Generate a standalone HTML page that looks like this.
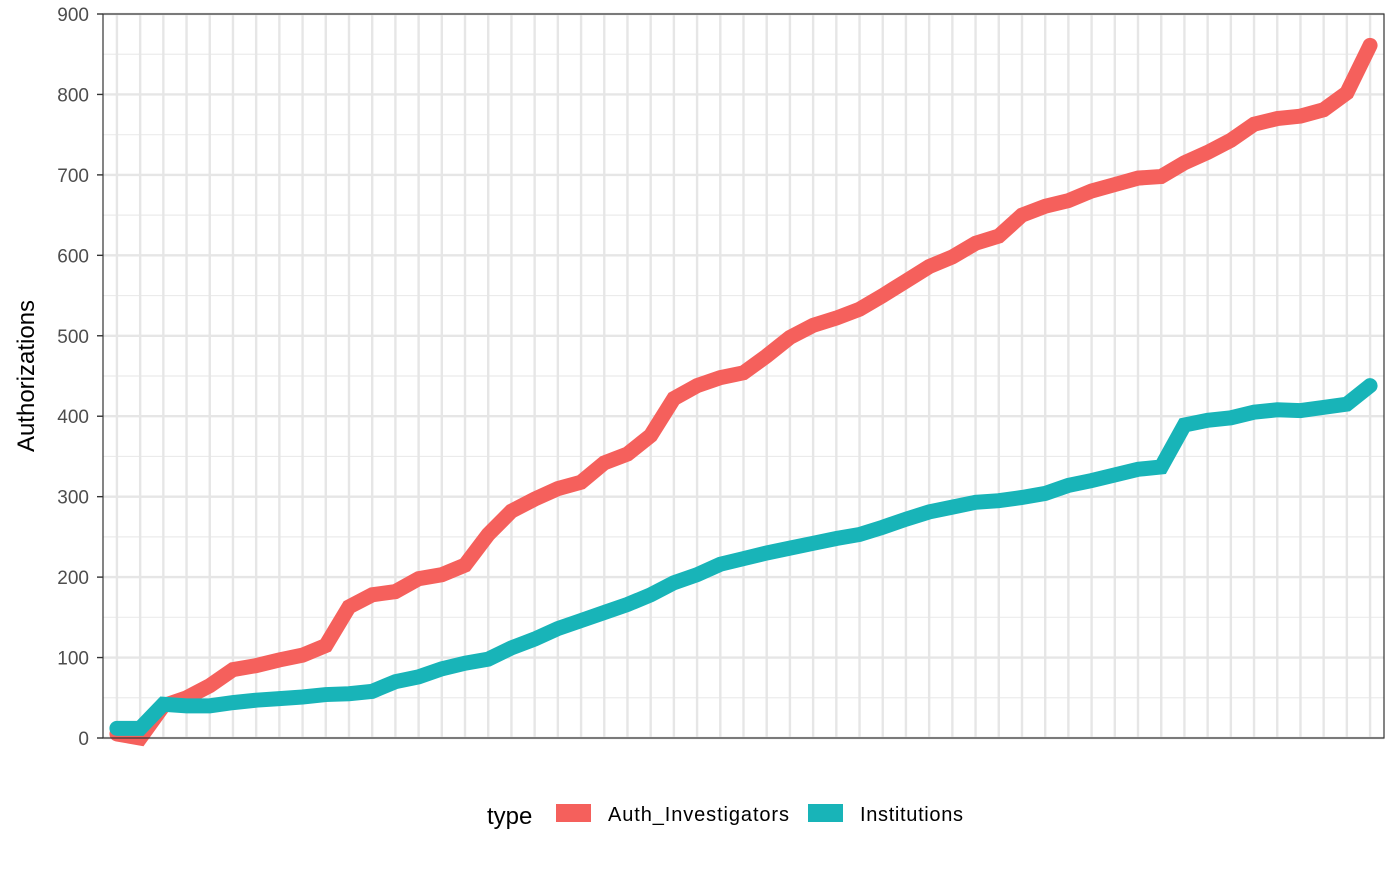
<!DOCTYPE html>
<html><head><meta charset="utf-8"><style>
body{margin:0;background:#fff;}
svg text{font-family:"Liberation Sans",Arial,sans-serif;}
</style></head><body>
<svg id="chart" width="1400" height="865" xmlns="http://www.w3.org/2000/svg">
<g id="grid"></g>
<g id="series"></g>
<rect x="103" y="14" width="1281" height="724" fill="none" stroke="#333" stroke-width="1.2"/>
<g id="yaxis"></g>
<text x="34" y="376" font-size="24" fill="#000" text-anchor="middle" transform="rotate(-90 34 376)">Authorizations</text>
<g>
<text x="487" y="824" font-size="24" fill="#000">type</text>
<rect x="556" y="804" width="35" height="18" fill="#F5605C"/>
<text x="608" y="821" font-size="20" fill="#000" textLength="181">Auth_Investigators</text>
<rect x="808" y="804" width="35" height="18" fill="#18B4B8"/>
<text x="860" y="821" font-size="20" fill="#000" textLength="103">Institutions</text>
</g>
</svg>
<script>
const authInvestigators=[5,0,40,50,65,85,90,97,103,115,163,178,182,198,203,215,253,282,297,310,318,342,353,376,422,438,448,454,475,498,513,522,533,550,568,586,598,615,624,650,661,668,680,688,696,698,715,728,743,763,770,773,781,802,861];
const institutions=[12,12,42,40,40,44,47,49,51,54,55,58,70,76,86,93,98,112,123,136,146,156,166,178,193,203,216,223,230,236,242,248,253,262,272,281,287,293,295,299,304,314,320,327,334,337,389,395,398,405,408,407,411,415,438];
const yTicks=[0,100,200,300,400,500,600,700,800,900];
const yMinor=[50,150,250,350,450,550,650,750,850];
const NS="http://www.w3.org/2000/svg";
const n=authInvestigators.length;
const x0=103,x1=1384,yTop=14,yBot=738;
const step=(x1-x0)/(n-1+1.2);
function xs(i){return x0+(i+0.6)*step;}
function ys(v){return yBot-(v/900)*(yBot-yTop);}
const grid=document.getElementById('grid');
function line(p,xa,ya,xb,yb,c,w){const l=document.createElementNS(NS,'line');l.setAttribute('x1',xa);l.setAttribute('y1',ya);l.setAttribute('x2',xb);l.setAttribute('y2',yb);l.setAttribute('stroke',c);l.setAttribute('stroke-width',w);p.appendChild(l);return l;}
yMinor.forEach(v=>{const l=line(grid,x0,ys(v),x1,ys(v),'#ebebeb',1.2);

});
yTicks.forEach(v=>{const l=line(grid,x0,ys(v),x1,ys(v),'#e6e6e6',2.4);

});
for(let i=0;i<n;i++){const l=line(grid,xs(i),yTop,xs(i),yBot,'#e6e6e6',2.4);

}
const ya=document.getElementById('yaxis');
yTicks.forEach(v=>{const t=line(ya,97,ys(v),103,ys(v),'#333',1.4);


const tx=document.createElementNS(NS,'text');tx.setAttribute('x',89);tx.setAttribute('y',ys(v)+7);tx.setAttribute('text-anchor','end');tx.setAttribute('font-size','19');tx.setAttribute('fill','#4d4d4d');tx.textContent=v;


ya.appendChild(tx);});
const sg=document.getElementById('series');
function drawSeries(arr,color,name){const p=document.createElementNS(NS,'polyline');
p.setAttribute('points',arr.map((v,i)=>xs(i)+','+ys(v)).join(' '));
p.setAttribute('fill','none');p.setAttribute('stroke',color);p.setAttribute('stroke-width','15');p.setAttribute('stroke-linecap','round');


sg.appendChild(p);}
drawSeries(authInvestigators,'#F5605C','line-auth-investigators');
drawSeries(institutions,'#18B4B8','line-institutions');
</script>
</body></html>
